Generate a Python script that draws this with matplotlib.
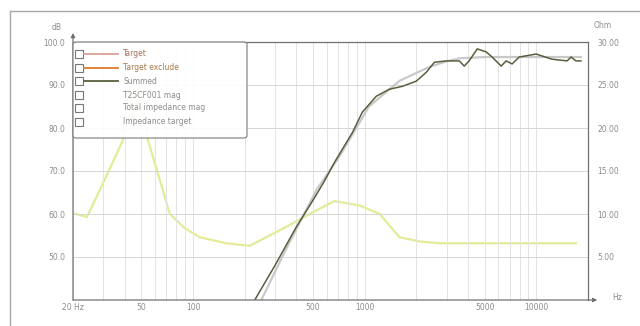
import numpy as np
import matplotlib
matplotlib.use('Agg')
import matplotlib.pyplot as plt
from matplotlib.patches import FancyBboxPatch, Rectangle
from matplotlib.lines import Line2D
from matplotlib.ticker import LogLocator, NullFormatter

# values (frequency in Hz, level in dB / impedance in ohm)
summed_freq = [229, 300, 400, 500, 580, 667, 850, 970, 1170, 1390, 1660, 2000, 2290, 2550,
               2990, 3560, 3800, 4060, 4530, 5100, 5530, 6240, 6670, 7230, 7940, 9980,
               12360, 15100, 15940, 17020, 18200]
summed_db = [40, 48.0, 57.0, 63.2, 67.5, 72, 79, 83.7, 87.4, 89, 89.7, 90.9, 93, 95.3,
             95.6, 95.6, 94.4, 95.6, 98.4, 97.7, 96.5, 94.4, 95.6, 94.9, 96.5, 97.2,
             96, 95.6, 96.5, 95.6, 95.6]

target_freq = [250, 350, 526, 716, 1060, 1600, 2380, 3000, 3560, 5000, 10000, 18200]
target_db = [40, 52, 65.7, 73.5, 85, 91, 94.2, 95.5, 96.2, 96.5, 96.5, 96.5]

imp_freq = [20, 24.1, 28.7, 39.1, 42, 45, 49, 54.6, 64, 73.3, 89, 109, 156, 214, 320,
            478, 667, 932, 1223, 1595, 2100, 2750, 17000]
imp_ohm = [10.1, 9.65, 12.8, 18.6, 25, 21, 25, 18.6, 14, 10, 8.4, 7.3, 6.6, 6.3, 8.1,
           10, 11.5, 11, 10, 7.3, 6.8, 6.6, 6.6]

db_ticks = [50, 60, 70, 80, 90, 100]
ohm_ticks = [5, 10, 15, 20, 25, 30]
hz_ticks = [20, 50, 100, 500, 1000, 5000, 10000]
hz_labels = ['20 Hz', '50', '100', '500', '1000', '5000', '10000']
legend_labels = ['Target', 'Target exclude', 'Summed', 'T25CF001 mag',
                 'Total impedance mag', 'Impedance target']

W, H = 640, 326
L, R, T, B = 73, 588, 42, 300   # plot area in pixels
txt_col = '#8c8c8c'
axis_col = '#707070'

fig = plt.figure(figsize=(6.4, 3.26), dpi=100)
ax = fig.add_axes([L / W, 1 - B / H, (R - L) / W, (B - T) / H])
ax2 = ax.twinx()
ax.set_zorder(ax2.get_zorder() + 1)
ax.patch.set_visible(False)

# impedance on right axis
ax2.plot(imp_freq, imp_ohm, color='#e4eb98', lw=1.6)
ax2.set_ylim(0, 30)
ax2.set_yticks(ohm_ticks, ['%.2f' % v for v in ohm_ticks])

# level curves
ax.plot(target_freq, target_db, color='#c4c4c4', lw=1.6, alpha=0.9)
ax.plot(summed_freq, summed_db, color='#56603e', lw=1.1)
ax.set_xscale('log')
ax.set_xlim(20, 20000)
ax.set_ylim(40, 100)
ax.set_yticks(db_ticks, ['%.1f' % v for v in db_ticks])
ax.set_xticks(hz_ticks, hz_labels)
ax.xaxis.set_minor_locator(LogLocator(base=10, subs=range(1, 10)))
ax.xaxis.set_minor_formatter(NullFormatter())

ax.grid(which='both', axis='x', color='#e3e3e3', lw=0.7)
ax.grid(which='major', axis='y', color='#d6d6d6', lw=0.7)
ax.set_axisbelow(True)

for a in (ax, ax2):
    a.tick_params(which='both', length=0, labelsize=5.5, labelcolor=txt_col)
    for s in a.spines.values():
        s.set_visible(False)
ax.tick_params(axis='y', pad=5.5)
ax.tick_params(axis='x', pad=2.5)
ax2.tick_params(axis='y', pad=6.5)

# frame: top and right plain, left and bottom with arrows
ax.plot([0, 1], [1, 1], transform=ax.transAxes, color=axis_col, lw=0.9, clip_on=False)
ax.plot([1, 1], [0, 1], transform=ax.transAxes, color=axis_col, lw=0.9, clip_on=False)
ax.annotate('', xy=(0, 1.035), xytext=(0, 0), xycoords='axes fraction',
            arrowprops=dict(arrowstyle='-|>', color=axis_col, lw=0.9,
                            mutation_scale=6, shrinkA=0, shrinkB=0))
ax.annotate('', xy=(1.018, 0), xytext=(0, 0), xycoords='axes fraction',
            arrowprops=dict(arrowstyle='-|>', color=axis_col, lw=0.9,
                            mutation_scale=6, shrinkA=0, shrinkB=0))

fig.text(57 / W, 1 - 27 / H, 'dB', fontsize=5.5, color=txt_col, ha='center', va='center')
fig.text(603 / W, 1 - 25 / H, 'Ohm', fontsize=5.5, color=txt_col, ha='center', va='center')
fig.text(617 / W, 1 - 298 / H, 'Hz', fontsize=5.5, color=txt_col, ha='center', va='center')


def px(x, y):
    return (x - L) / (R - L), (B - y) / (B - T)


# legend with check boxes
x0, y0 = px(73, 138)
x1, y1 = px(247, 42)
ax.add_patch(FancyBboxPatch((x0, y0), x1 - x0, y1 - y0, transform=ax.transAxes,
                            boxstyle='round,pad=0,rounding_size=0.008',
                            fc='white', ec='#808080', lw=0.9, alpha=0.92,
                            zorder=10, clip_on=False))
rows = [54, 68, 81, 95, 108, 122]
line_cols = ['#d9a096', '#e07a2e', '#56603e', None, None, None]
label_cols = ['#a8705f', '#a8784a', txt_col, txt_col, txt_col, txt_col]
for yy, lab, lc, tc in zip(rows, legend_labels, line_cols, label_cols):
    bx, by = px(75, yy + 3.5)
    bw = 8 / (R - L)
    bh = 7 / (B - T)
    ax.add_patch(Rectangle((bx, by), bw, bh, transform=ax.transAxes, fc='white',
                           ec='#777777', lw=0.8, zorder=11, clip_on=False))
    if lc:
        xa, ya = px(84, yy)
        xb, _ = px(118, yy)
        ax.plot([xa, xb], [ya, ya], transform=ax.transAxes, color=lc, lw=1.3,
                zorder=11, clip_on=False)
    xt, yt = px(123, yy)
    ax.text(xt, yt, lab, transform=ax.transAxes, fontsize=5.5, color=tc,
            va='center', ha='left', zorder=12)

# outer frame of the screenshot
fig.add_artist(Line2D([10 / W, 1], [1 - 11 / H, 1 - 11 / H], transform=fig.transFigure,
                      color='#a8a8a8', lw=1))
fig.add_artist(Line2D([10 / W, 10 / W], [1 - 11 / H, 0], transform=fig.transFigure,
                      color='#a8a8a8', lw=1))

fig.savefig('out.png', dpi=100)
